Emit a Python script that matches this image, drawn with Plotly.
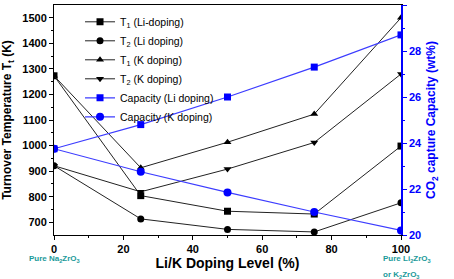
import plotly.graph_objects as go

doping = [0, 25, 50, 75, 100]
t1_li = [1273, 804, 743, 732, 998]
t2_li = [921, 713, 672, 662, 776]
t1_k = [1273, 913, 1013, 1123, 1500]
t2_k = [921, 819, 908, 1012, 1280]
cap_li = [23.75, 24.8, 26.0, 27.3, 28.7]
cap_k = [23.75, 22.75, 21.85, 21.0, 20.2]

names = ["T<sub>1</sub> (Li-doping)", "T<sub>2</sub> (Li doping)",
         "T<sub>1</sub> (K doping)", "T<sub>2</sub> (K doping)",
         "Capacity (Li doping)", "Capacity (K doping)"]

FONT = "Liberation Sans, Arial, sans-serif"
BLK = "#222222"
BLUE = "#0000ff"
TEAL = "#1a9a9a"

fig = go.Figure()
black_series = [(t1_li, "square"), (t2_li, "circle"), (t1_k, "triangle-up"), (t2_k, "triangle-down")]
for i, (vals, sym) in enumerate(black_series):
    fig.add_trace(go.Scatter(x=doping, y=vals, name=names[i], mode="lines+markers",
                             line=dict(color=BLK, width=1),
                             marker=dict(symbol=sym, size=7, color="black"),
                             yaxis="y", xaxis="x"))
for j, (vals, sym) in enumerate([(cap_li, "square"), (cap_k, "circle")]):
    fig.add_trace(go.Scatter(x=doping, y=vals, name=names[4 + j], mode="lines+markers",
                             line=dict(color="#3c3cff", width=1.2),
                             marker=dict(symbol=sym, size=7 if sym == "square" else 8, color=BLUE),
                             yaxis="y2", xaxis="x"))

fig.update_layout(
    width=454, height=279,
    margin=dict(l=54, r=53, t=5, b=44),
    paper_bgcolor="white", plot_bgcolor="white",
    font=dict(family=FONT, color="black"),
    showlegend=True,
    legend=dict(x=0.075, y=0.99, xanchor="left", yanchor="top",
                bgcolor="rgba(0,0,0,0)", font=dict(size=10.5, family=FONT),
                tracegroupgap=0, itemwidth=30),
    xaxis=dict(range=[0, 100], tickvals=[0, 20, 40, 60, 80, 100],
               ticks="outside", ticklen=4, tickwidth=1, tickcolor="black",
               showline=True, linecolor="black", linewidth=1, mirror=True,
               showgrid=False, zeroline=False,
               tickfont=dict(size=11, family=FONT, weight="bold"),
               minor=dict(tickvals=[10, 30, 50, 70, 90], ticks="outside", ticklen=2, tickcolor="black"),
               title=dict(text="<b>Li/K Doping Level (%)</b>", font=dict(size=14, family=FONT), standoff=3)),
    xaxis2=dict(range=[0, 100], overlaying="x", side="top", tickvals=[0, 20, 40, 60, 80, 100],
                ticks="inside", ticklen=4, tickcolor="black", showticklabels=False,
                showgrid=False, zeroline=False, showline=False,
                minor=dict(tickvals=[10, 30, 50, 70, 90], ticks="inside", ticklen=2, tickcolor="black")),
    yaxis=dict(range=[650, 1550], tickvals=[700, 800, 900, 1000, 1100, 1200, 1300, 1400, 1500],
               ticks="outside", ticklen=4, tickcolor="black",
               showline=True, linecolor="black", linewidth=1,
               showgrid=False, zeroline=False,
               tickfont=dict(size=11, family=FONT, weight="bold"),
               minor=dict(tickvals=[750, 850, 950, 1050, 1150, 1250, 1350, 1450], ticks="outside", ticklen=2, tickcolor="black"),
               title=dict(text="<b>Turnover Temperature T<sub>t</sub> (K)</b>", font=dict(size=12, family=FONT), standoff=8)),
    yaxis2=dict(range=[20, 30], overlaying="y", side="right", tickvals=[20, 22, 24, 26, 28, 30],
                ticks="outside", ticklen=4, tickcolor=BLUE,
                showline=True, linecolor=BLUE, linewidth=1.5,
                showgrid=False, zeroline=False,
                tickfont=dict(size=11, family=FONT, weight="bold", color=BLUE),
                minor=dict(tickvals=[21, 23, 25, 27, 29], ticks="outside", ticklen=2, tickcolor=BLUE),
                title=dict(text="<b>CO<sub>2</sub> capture Capacity (wt%)</b>", font=dict(size=12, family=FONT, color=BLUE), standoff=6)),
)

ann_font = dict(size=8, family=FONT, color=TEAL, weight="bold")
fig.add_annotation(x=0, y=-0.072, xref="x", yref="paper", text="Pure Na<sub>2</sub>ZrO<sub>3</sub>",
                   showarrow=False, font=ann_font, xanchor="center", yanchor="top")
fig.add_annotation(x=100, y=-0.072, xref="x", yref="paper", text="Pure Li<sub>2</sub>ZrO<sub>3</sub>",
                   showarrow=False, font=ann_font, xanchor="left", yanchor="top", xshift=-20)
fig.add_annotation(x=100, y=-0.142, xref="x", yref="paper", text="or K<sub>2</sub>ZrO<sub>3</sub>",
                   showarrow=False, font=ann_font, xanchor="left", yanchor="top", xshift=-20)

fig.write_html("out.html", config={"displayModeBar": False},
               post_script="document.body.style.margin='0';")
